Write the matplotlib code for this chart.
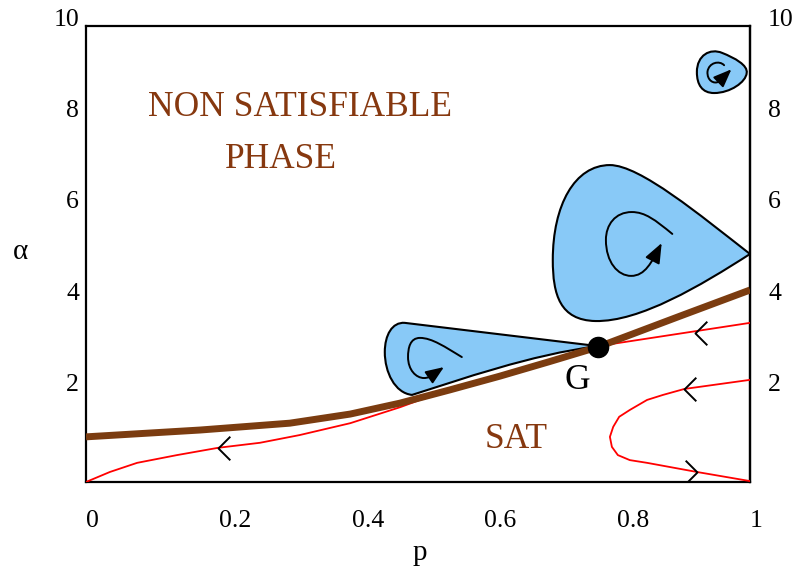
import matplotlib
matplotlib.use("Agg")
import matplotlib.pyplot as plt
from matplotlib.path import Path
from matplotlib.patches import PathPatch, FancyArrowPatch

plt.rcParams['font.family'] = ['Liberation Serif', 'DejaVu Serif']

# transition line alpha_c(p)
p_border = [0.0, 0.172, 0.307, 0.398, 0.473, 0.548, 0.623, 0.698, 0.771, 0.895, 1.0]
a_border = [0.99, 1.14, 1.29, 1.49, 1.73, 2.02, 2.32, 2.64, 2.96, 3.64, 4.21]

# red flow lines
p_flow1 = [0.0, 0.036, 0.077, 0.137, 0.199, 0.262, 0.322, 0.398, 0.473, 0.503, 0.623, 0.771, 1.0]
a_flow1 = [0.0, 0.22, 0.42, 0.59, 0.75, 0.86, 1.03, 1.29, 1.64, 1.80, 2.32, 2.98, 3.49]
p_flow2 = [1.0, 0.901, 0.869, 0.845, 0.819, 0.803, 0.794, 0.789, 0.792, 0.801, 0.819, 0.845, 0.920, 1.0]
a_flow2 = [2.24, 2.04, 1.91, 1.80, 1.58, 1.43, 1.21, 0.99, 0.77, 0.59, 0.48, 0.42, 0.22, 0.02]

# direction marks on the flow lines
p_left_marks = [0.199, 0.917, 0.901]
a_left_marks = [0.75, 3.27, 2.04]
p_right_marks = [0.920]
a_right_marks = [0.22]

# fixed point G
p_G, a_G = 0.771, 2.96

# blue basins (bezier control polygons)
big_drop = [(1.000, 5.00),
            (0.925, 4.30), (0.834, 3.51), (0.767, 3.53),
            (0.714, 3.55), (0.703, 4.10), (0.703, 4.87),
            (0.703, 6.07), (0.736, 6.95), (0.789, 6.95),
            (0.834, 6.95), (0.925, 5.85), (1.000, 5.00)]
left_drop = [(0.771, 2.98),
             (0.480, 3.49),
             (0.461, 3.51), (0.450, 3.22), (0.450, 2.85),
             (0.450, 2.41), (0.465, 1.95), (0.491, 1.91),
             (0.563, 2.24), (0.669, 2.79), (0.771, 2.98)]
small_blob = [(0.920, 8.99),
              (0.920, 9.36), (0.940, 9.52), (0.958, 9.41),
              (0.977, 9.30), (0.997, 9.14), (0.995, 8.97),
              (0.994, 8.77), (0.970, 8.53), (0.946, 8.53),
              (0.928, 8.53), (0.920, 8.71), (0.920, 8.99)]

# swirl arrows inside the basins
swirl_big = [(0.883, 5.44),
             (0.857, 5.75), (0.842, 5.92), (0.822, 5.92),
             (0.797, 5.92), (0.783, 5.64), (0.783, 5.31),
             (0.783, 4.82), (0.801, 4.52), (0.821, 4.52),
             (0.842, 4.52), (0.852, 4.82), (0.867, 5.24)]
swirl_left = [(0.566, 2.74),
              (0.541, 2.96), (0.521, 3.16), (0.503, 3.16),
              (0.488, 3.16), (0.485, 2.94), (0.485, 2.74),
              (0.485, 2.46), (0.497, 2.28), (0.509, 2.28),
              (0.521, 2.28), (0.530, 2.43), (0.539, 2.52)]
swirl_small = [(0.961, 9.14),
               (0.954, 9.25), (0.938, 9.20), (0.936, 9.00),
               (0.935, 8.80), (0.946, 8.72), (0.953, 8.78),
               (0.972, 9.05)]

x_ticks = [0, 0.2, 0.4, 0.6, 0.8, 1.0]
x_ticklabels = ['0', '0.2', '0.4', '0.6', '0.8', '1']
y_ticks = [2, 4, 6, 8, 10]
y_ticklabels = ['2', '4', '6', '8', '10']

BROWN = '#7b3c10'
TEXT_BROWN = '#86380f'
BLUE = '#88c9f7'

C4 = Path.CURVE4


def main():
    fig = plt.figure(figsize=(8, 5.75), dpi=100)
    ax = fig.add_axes([86 / 800, 93 / 575, 664 / 800, 456 / 575])
    ax.set_xlim(0, 1)
    ax.set_ylim(0, 10)

    # basins
    shapes = [
        (big_drop, [Path.MOVETO] + [C4] * 12),
        (left_drop, [Path.MOVETO, Path.LINETO] + [C4] * 9),
        (small_blob, [Path.MOVETO] + [C4] * 12),
    ]
    for verts, codes in shapes:
        ax.add_patch(PathPatch(Path(verts, codes), facecolor=BLUE, edgecolor='black',
                               lw=1.5, zorder=1))

    swirls = [
        (swirl_big, [Path.MOVETO] + [C4] * 12, 22),
        (swirl_left, [Path.MOVETO] + [C4] * 12, 20),
        (swirl_small, [Path.MOVETO] + [C4] * 6 + [Path.LINETO], 20),
    ]
    for verts, codes, ms in swirls:
        ax.add_patch(FancyArrowPatch(path=Path(verts, codes),
                                     arrowstyle='-|>,head_length=0.55,head_width=0.22',
                                     mutation_scale=ms, color='black', lw=1.4,
                                     shrinkA=0, shrinkB=0, zorder=2))

    # flow lines
    ax.plot(p_flow1, a_flow1, color='red', lw=1.3, zorder=3)
    ax.plot(p_flow2, a_flow2, color='red', lw=1.3, zorder=3)

    # transition line
    ax.plot(p_border, a_border, color=BROWN, lw=5, solid_capstyle='butt', zorder=4)

    chev_left = Path([(1, 1), (0, 0), (1, -1)], [Path.MOVETO, Path.LINETO, Path.LINETO])
    chev_right = Path([(-1, 1), (0, 0), (-1, -1)], [Path.MOVETO, Path.LINETO, Path.LINETO])
    ax.plot(p_left_marks, a_left_marks, ls='none', marker=chev_left, ms=17,
            mfc='none', mec='black', mew=1.4, zorder=5)
    ax.plot(p_right_marks, a_right_marks, ls='none', marker=chev_right, ms=17,
            mfc='none', mec='black', mew=1.4, zorder=5)

    ax.plot([p_G], [a_G], 'o', color='black', ms=14.5, zorder=6)

    ax.text(0.093, 8.22, 'NON SATISFIABLE', color=TEXT_BROWN, fontsize=25.5,
            ha='left', va='center')
    ax.text(0.209, 7.07, 'PHASE', color=TEXT_BROWN, fontsize=25.5, ha='left', va='center')
    ax.text(0.601, 0.93, 'SAT', color=TEXT_BROWN, fontsize=25.5, ha='left', va='center')
    ax.text(0.740, 2.23, 'G', color='black', fontsize=25.5, ha='center', va='center')

    ax.set_xticks(x_ticks)
    ax.set_xticklabels(x_ticklabels, ha='left')
    ax.set_yticks(y_ticks)
    ax.set_yticklabels(y_ticklabels)
    ax.tick_params(length=0, labelsize=18.5)
    ax.tick_params(axis='x', pad=20)
    ax.tick_params(axis='y', pad=5)
    for lab in ax.get_yticklabels():
        lab.set_va('baseline')

    # right-hand copy of the alpha scale
    sec = ax.secondary_yaxis('right')
    sec.set_yticks(y_ticks)
    sec.set_yticklabels(y_ticklabels)
    sec.tick_params(length=0, labelsize=18.5, pad=13)
    for lab in sec.get_yticklabels():
        lab.set_va('baseline')
    sec.spines['right'].set_linewidth(1.6)

    for s in ax.spines.values():
        s.set_linewidth(1.6)

    ax.set_ylabel('α', rotation=0, fontsize=21, va='center')
    ax.yaxis.set_label_coords(-0.099, 0.505)
    ax.set_xlabel('p', fontsize=21, va='center')
    ax.xaxis.set_label_coords(0.503, -0.155)

    fig.savefig('out.png', dpi=100)


main()
